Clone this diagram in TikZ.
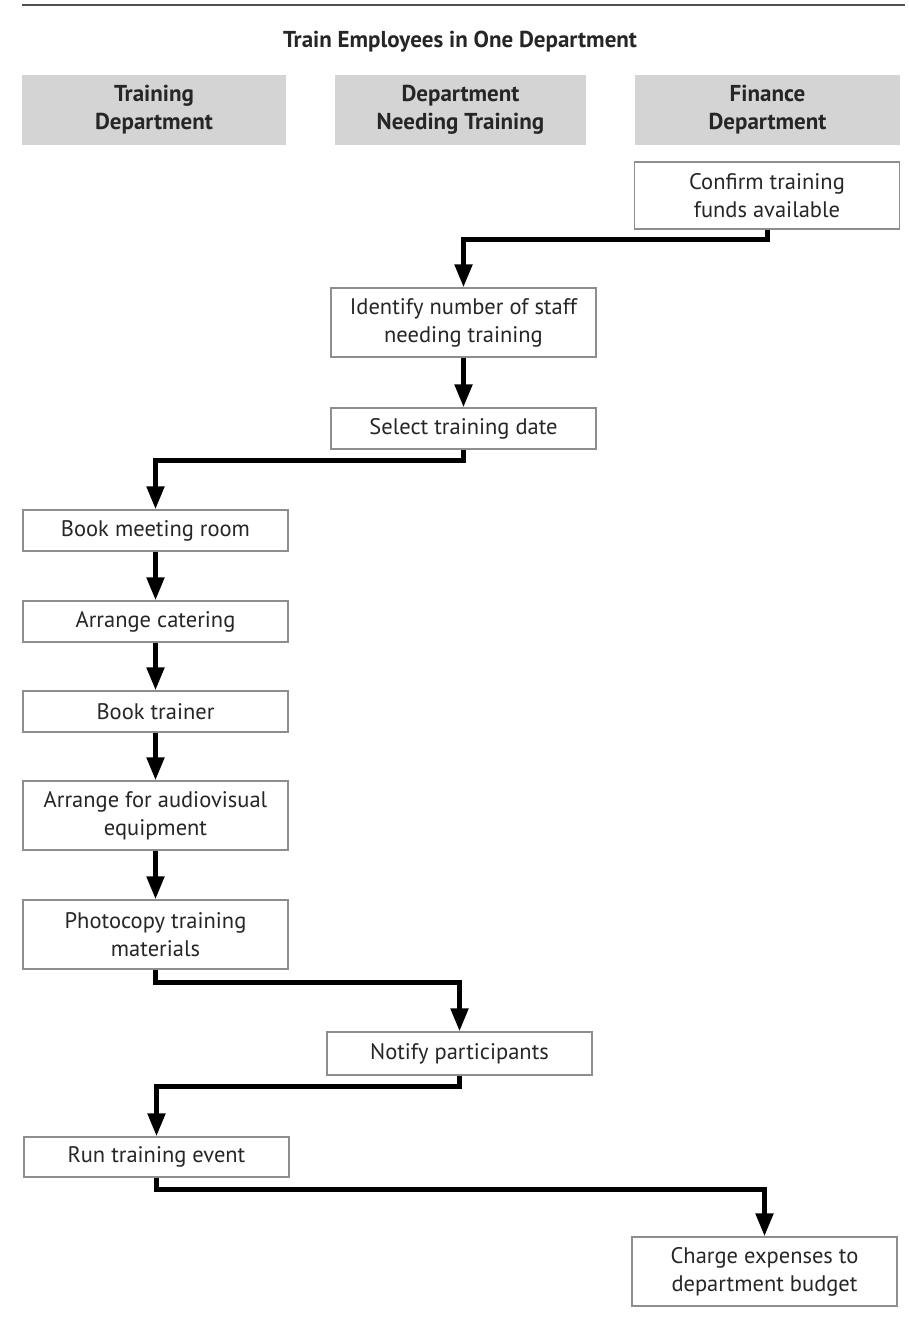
\documentclass[tikz,border=0pt]{standalone}
\usepackage{fontspec}
\setmainfont{PT Sans}
\usetikzlibrary{arrows.meta}
\definecolor{hdrgray}{HTML}{D4D4D4}
\definecolor{txt}{HTML}{262626}
\definecolor{bord}{HTML}{8E8E8E}
\definecolor{rule}{HTML}{505050}
\begin{document}
\begin{tikzpicture}[x=1pt,y=-1pt,
  box/.style={draw=bord, line width=1.3pt, fill=white, text=txt, align=center,
    minimum width=265pt, inner sep=0pt, font=\fontsize{22.5}{28}\selectfont},
  hdr/.style={fill=hdrgray, text=txt, align=center, minimum height=70pt,
    inner sep=0pt, font=\bfseries\fontsize{23}{28}\selectfont},
  flow/.style={line width=5pt, line join=miter, -{Triangle[width=17pt,length=23pt]}}]
\useasboundingbox (0,0) rectangle (908,1327);
\fill[white] (0,0) rectangle (908,1327);
\coordinate (ruleL) at (22,5);
\coordinate (ruleR) at (905,5);
\draw[rule, line width=2.5pt] (ruleL) -- (ruleR);
\node[text=txt, font=\bfseries\fontsize{23}{28}\selectfont] (title) at (460,42) {Train Employees in One Department};
% lane headers
\node[hdr, minimum width=264pt] (h1) at (154,110) {Training\\Department};
\node[hdr, minimum width=251pt] (h2) at (460.5,110) {Department\\Needing Training};
\node[hdr, minimum width=265pt] (h3) at (767.5,110) {Finance\\Department};
% process boxes
\node[box, minimum height=67pt] (confirm) at (767,195.5) {Confirm training\\funds available};
\node[box, minimum height=69pt] (identify) at (463.5,322.5) {Identify number of staff\\needing training};
\node[box, minimum height=41pt] (select) at (463.5,428.5) {Select training date};
\node[box, minimum height=41pt] (book) at (155.5,530.5) {Book meeting room};
\node[box, minimum height=41pt] (cater) at (155.5,621.5) {Arrange catering};
\node[box, minimum height=41pt] (trainer) at (155.5,711.5) {Book trainer};
\node[box, minimum height=69pt] (av) at (155.5,815.5) {Arrange for audiovisual\\equipment};
\node[box, minimum height=69pt] (photo) at (155.5,934.5) {Photocopy training\\materials};
\node[box, minimum height=43pt] (notify) at (459.5,1053.5) {Notify participants};
\node[box, minimum height=40pt] (run) at (156.5,1157) {Run training event};
\node[box, minimum height=69pt] (charge) at (764.5,1271.5) {Charge expenses to\\department budget};
% connectors
\draw[flow] (confirm.south) -- ++(0,10) -| (identify.north);
\draw[flow] (identify) -- (select);
\draw[flow] (select.south) -- ++(0,11) -| (book.north);
\draw[flow] (book) -- (cater);
\draw[flow] (cater) -- (trainer);
\draw[flow] (trainer) -- (av);
\draw[flow] (av) -- (photo);
\draw[flow] (photo.south) -- ++(0,13) -| (notify.north);
\draw[flow] (notify.south) -- ++(0,11) -| (run.north);
\draw[flow] (run.south) -- ++(0,12) -| (charge.north);
\end{tikzpicture}
\end{document}
